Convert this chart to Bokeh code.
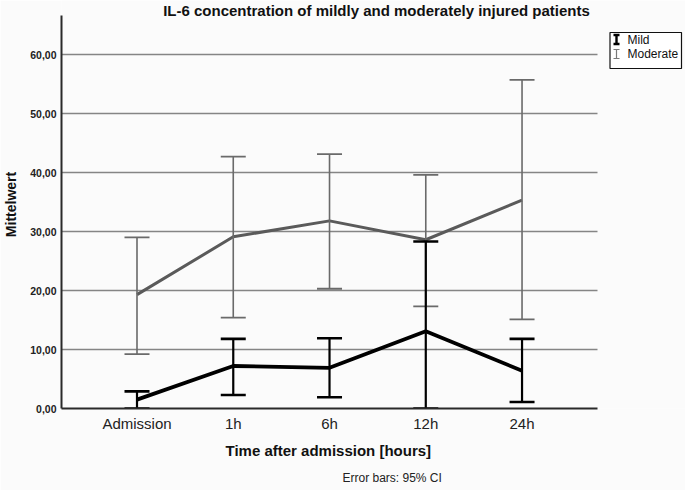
from bokeh.plotting import figure
from bokeh.models import (ColumnDataSource, Whisker, TeeHead, Range1d,
                          FixedTicker, Title)
from bokeh.core.properties import value
from bokeh.embed import file_html
from bokeh.resources import INLINE

# IL-6 means with 95% confidence limits per time point
time_points = ["Admission", "1h", "6h", "12h", "24h"]

mild_mean = [1.5, 7.2, 6.9, 13.1, 6.4]
mild_upper = [2.9, 11.8, 11.9, 28.3, 11.8]
mild_lower = [0.0, 2.3, 1.9, 0.0, 1.1]

moderate_mean = [19.3, 29.1, 31.8, 28.6, 35.3]
moderate_upper = [29.0, 42.7, 43.1, 39.6, 55.7]
moderate_lower = [9.2, 15.4, 20.3, 17.3, 15.1]

y_ticks = [0, 10, 20, 30, 40, 50, 60]
y_tick_labels = ["0,00", "10,00", "20,00", "30,00", "40,00", "50,00", "60,00"]

series_names = ["Mild", "Moderate"]

FONT = "Liberation Sans"
BG = "#fbfbfb"
MILD_COLOR = "#000000"
MOD_COLOR = "#5a5a5a"
MOD_BAR_COLOR = "#6a6a6a"

W, H = 685, 490
LEFT, BOTTOM = 61, 82          # space for the axes
AXIS_RIGHT_PX = 597            # where the x axis and grid end
PX_PER_SLOT = 96.26            # horizontal distance between time points
FIRST_SLOT_PX = 136.5
Y_AXIS_TOP = 66.6
PX_PER_UNIT = 5.9

slot = list(range(len(time_points)))
x_lo = (LEFT - FIRST_SLOT_PX) / PX_PER_SLOT
x_axis_hi = (AXIS_RIGHT_PX - FIRST_SLOT_PX) / PX_PER_SLOT
x_hi = (W - FIRST_SLOT_PX) / PX_PER_SLOT
y_hi = (H - BOTTOM) / PX_PER_UNIT

mild_src = ColumnDataSource(dict(x=slot, mean=mild_mean,
                                 upper=mild_upper, lower=mild_lower))
mod_src = ColumnDataSource(dict(x=slot, mean=moderate_mean,
                                upper=moderate_upper, lower=moderate_lower))

# the frame spans to the top and right edges, so the heading and the
# legend sit inside it; axis lines and grid are bounded to the chart area
p = figure(width=W, height=H, output_backend="svg", toolbar_location=None,
           x_range=Range1d(x_lo, x_hi), y_range=Range1d(0, y_hi),
           min_border_left=LEFT, min_border_right=0,
           min_border_top=0, min_border_bottom=BOTTOM)
p.background_fill_color = BG
p.border_fill_color = BG
p.outline_line_color = None

# pixel coordinate system for heading and legend (y runs downwards)
p.extra_x_ranges = {"px": Range1d(LEFT, W)}
p.extra_y_ranges = {"px": Range1d(H - BOTTOM, 0)}

# grid
p.xgrid.grid_line_color = None
grid = p.ygrid[0]
grid.ticker = FixedTicker(ticks=y_ticks)
grid.grid_line_color = "#858585"
grid.grid_line_width = 1.4
if "cross_bounds" in grid.properties():
    grid.cross_bounds = (x_lo, x_axis_hi)

# y axis
p.yaxis.ticker = FixedTicker(ticks=y_ticks)
p.yaxis.bounds = (0, Y_AXIS_TOP)
p.yaxis.major_label_overrides = {t: s for t, s in zip(y_ticks, y_tick_labels)}
p.yaxis.major_label_text_font = FONT
p.yaxis.major_label_text_font_style = "bold"
p.yaxis.major_label_text_font_size = "10.5px"
p.yaxis.major_label_text_color = "#222222"
p.yaxis.major_label_standoff = 5
p.yaxis.axis_label = "Mittelwert"
p.yaxis.axis_label_text_font = FONT
p.yaxis.axis_label_text_font_style = "bold"
p.yaxis.axis_label_text_font_size = "14px"
p.yaxis.axis_label_text_color = "#111111"
p.yaxis.axis_label_standoff = 8

# x axis (its title is placed as a separate panel so it centres on the chart area)
p.xaxis.ticker = FixedTicker(ticks=slot)
p.xaxis.bounds = (x_lo, x_axis_hi)
p.xaxis.major_label_overrides = {i: name for i, name in zip(slot, time_points)}
p.xaxis.major_label_text_font = FONT
p.xaxis.major_label_text_font_size = "15px"
p.xaxis.major_label_text_color = "#222222"
p.xaxis.major_label_standoff = 6

for ax in (p.xaxis, p.yaxis):
    ax.axis_line_color = "#2a2a2a"
    ax.axis_line_width = 2
    ax.major_tick_line_color = None
    ax.minor_tick_line_color = None
    ax.major_tick_out = 0
    ax.major_tick_in = 0

# moderate group: error bars, then mean line
p.add_layout(Whisker(base="x", upper="upper", lower="lower", source=mod_src,
                     dimension="height", level="glyph",
                     line_color=MOD_BAR_COLOR, line_width=1.6,
                     upper_head=TeeHead(size=25, line_color=MOD_BAR_COLOR, line_width=1.8),
                     lower_head=TeeHead(size=25, line_color=MOD_BAR_COLOR, line_width=1.8)))
p.line("x", "mean", source=mod_src, line_color=MOD_COLOR, line_width=3)

# mild group on top
p.add_layout(Whisker(base="x", upper="upper", lower="lower", source=mild_src,
                     dimension="height", level="glyph",
                     line_color=MILD_COLOR, line_width=2.2,
                     upper_head=TeeHead(size=25, line_color=MILD_COLOR, line_width=2.6),
                     lower_head=TeeHead(size=25, line_color=MILD_COLOR, line_width=2.6)))
p.line("x", "mean", source=mild_src, line_color=MILD_COLOR, line_width=3.8)

# heading
p.text(x=[376], y=[9.5], text=["IL-6 concentration of mildly and moderately injured patients"],
       x_range_name="px", y_range_name="px",
       text_align="center", text_baseline="alphabetic",
       text_font=value(FONT), text_font_style="bold", text_font_size="15px",
       text_color="#111111")

# legend box
p.quad(left=[609.5], right=[681], top=[32], bottom=[68],
       x_range_name="px", y_range_name="px",
       fill_color="#ffffff", line_color="#111111", line_width=1.2)

icon_y = [39, 53.5]
icon_colors = [MILD_COLOR, "#7a7a7a"]
icon_widths = [2.4, 1.2]
for yc, col, w in zip(icon_y, icon_colors, icon_widths):
    p.segment(x0=[616], y0=[yc - 4.5], x1=[616], y1=[yc + 4.5],
              x_range_name="px", y_range_name="px", line_color=col, line_width=w)
    p.segment(x0=[613, 613], y0=[yc - 4.5, yc + 4.5], x1=[619, 619], y1=[yc - 4.5, yc + 4.5],
              x_range_name="px", y_range_name="px", line_color=col, line_width=w)

p.text(x=[627, 627], y=[icon_y[0], icon_y[1]], text=series_names,
       x_range_name="px", y_range_name="px",
       text_font=value(FONT), text_font_size="12px", text_color="#111111",
       text_baseline="alphabetic", text_align="left")

# axis title and footnote below the tick labels
p.add_layout(Title(text="Time after admission [hours]", align="left", offset=164,
                   vertical_align="bottom", text_line_height=1.6,
                   text_font=FONT, text_font_style="bold",
                   text_font_size="15px", text_color="#111111"), "below")
p.add_layout(Title(text="Error bars: 95% CI", align="left", offset=281,
                   vertical_align="bottom", text_line_height=1.6,
                   text_font=FONT, text_font_style="normal",
                   text_font_size="12px", text_color="#222222"), "below")

open("out.html", "w").write(file_html(p, INLINE))
